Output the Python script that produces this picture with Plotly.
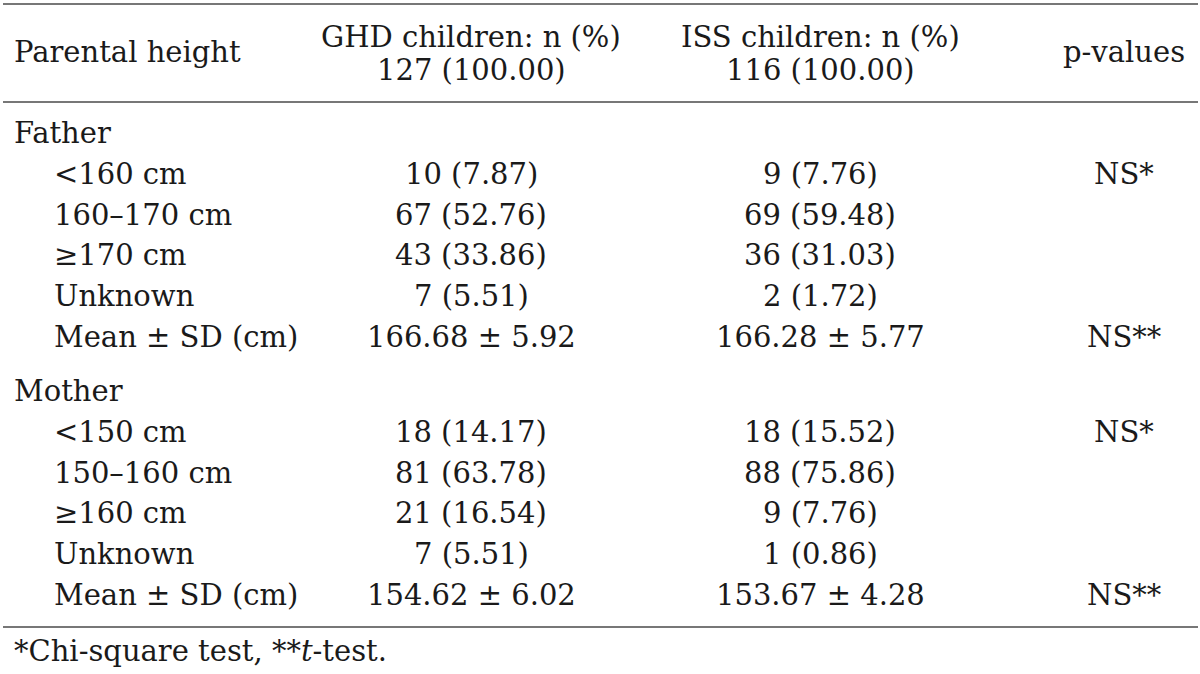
import plotly.graph_objects as go

# ---- data ----
header_label = "Parental height"
header_ghd = ["GHD children: n (%)", "127 (100.00)"]
header_iss = ["ISS children: n (%)", "116 (100.00)"]
header_p = "p-values"

sections = ["Father", "Mother"]
father_rows = ["<160 cm", "160\u2013170 cm", "\u2265170 cm", "Unknown", "Mean \u00b1 SD (cm)"]
father_ghd = ["10 (7.87)", "67 (52.76)", "43 (33.86)", "7 (5.51)", "166.68 \u00b1 5.92"]
father_iss = ["9 (7.76)", "69 (59.48)", "36 (31.03)", "2 (1.72)", "166.28 \u00b1 5.77"]
father_p = ["NS*", "", "", "", "NS**"]

mother_rows = ["<150 cm", "150\u2013160 cm", "\u2265160 cm", "Unknown", "Mean \u00b1 SD (cm)"]
mother_ghd = ["18 (14.17)", "81 (63.78)", "21 (16.54)", "7 (5.51)", "154.62 \u00b1 6.02"]
mother_iss = ["18 (15.52)", "88 (75.86)", "9 (7.76)", "1 (0.86)", "153.67 \u00b1 4.28"]
mother_p = ["NS*", "", "", "", "NS**"]

footnote = "*Chi-square test, **<i>t</i>-test."

# ---- layout constants ----
W, H = 1200, 674
FONT = "DejaVu Serif"
FS = 29
COLOR = "#1a1a1a"
X_LABEL, X_INDENT, X_GHD, X_ISS, X_P = 12, 52, 471, 820, 1124

fig = go.Figure()
fig.add_trace(go.Scatter(x=[0, W], y=[0, H], mode="markers",
                         marker=dict(opacity=0), hoverinfo="skip", showlegend=False))

ann = []


def txt(x, y, s, anchor="center"):
    ann.append(dict(x=x, y=y, xref="x", yref="y", text=s, showarrow=False,
                    xanchor=anchor, yanchor="middle",
                    font=dict(family=FONT, size=FS, color=COLOR)))


# header
txt(X_LABEL, 52, header_label, "left")
txt(X_GHD, 37, header_ghd[0])
txt(X_GHD, 70, header_ghd[1])
txt(X_ISS, 37, header_iss[0])
txt(X_ISS, 70, header_iss[1])
txt(X_P, 52, header_p)

PITCH = 40.8
starts = [133, 391]
blocks = [(father_rows, father_ghd, father_iss, father_p),
          (mother_rows, mother_ghd, mother_iss, mother_p)]
for sec, y0, (rows, g, i, p) in zip(sections, starts, blocks):
    txt(X_LABEL, y0, sec, "left")
    for k in range(len(rows)):
        y = y0 + (k + 1) * PITCH
        txt(X_INDENT, y, rows[k], "left")
        txt(X_GHD, y, g[k])
        txt(X_ISS, y, i[k])
        if p[k]:
            txt(X_P, y, p[k])

txt(X_LABEL, 651, footnote, "left")

shapes = []
for yy in [4, 102, 627]:
    shapes.append(dict(type="line", xref="x", yref="y", x0=3, x1=1198, y0=yy, y1=yy,
                       line=dict(color="#4a4a4a", width=1.6)))

fig.update_layout(
    width=W, height=H,
    margin=dict(l=0, r=0, t=0, b=0),
    paper_bgcolor="white", plot_bgcolor="white",
    xaxis=dict(range=[0, W], visible=False, fixedrange=True),
    yaxis=dict(range=[H, 0], visible=False, fixedrange=True),
    annotations=ann, shapes=shapes, showlegend=False,
)
fig.write_html("out.html", config={"displayModeBar": False})

# remove default page margin so the figure fills the window exactly
with open("out.html", encoding="utf-8") as f:
    html = f.read()
html = html.replace("<head>", "<head><style>html,body{margin:0;padding:0;overflow:hidden;}</style>", 1)
with open("out.html", "w", encoding="utf-8") as f:
    f.write(html)
